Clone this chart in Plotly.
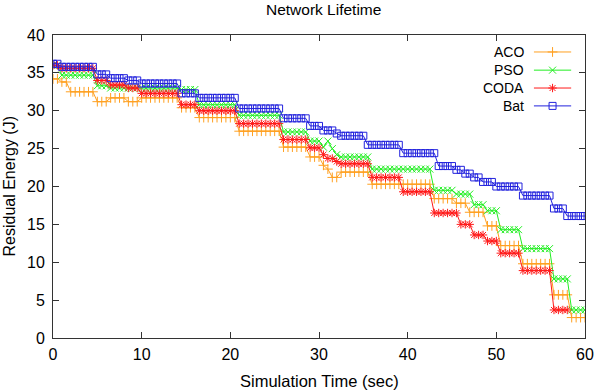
import plotly.graph_objects as go

# Simulation time grid (sec)
time_s = [
    0.0, 0.5, 1.0, 1.5, 2.0, 2.5, 3.0, 3.5, 4.0, 4.5,
    5.0, 5.5, 6.0, 6.5, 7.0, 7.5, 8.0, 8.5, 9.0, 9.5,
    10.0, 10.5, 11.0, 11.5, 12.0, 12.5, 13.0, 13.5, 14.0, 14.5,
    15.0, 15.5, 16.0, 16.5, 17.0, 17.5, 18.0, 18.5, 19.0, 19.5,
    20.0, 20.5, 21.0, 21.5, 22.0, 22.5, 23.0, 23.5, 24.0, 24.5,
    25.0, 25.5, 26.0, 26.5, 27.0, 27.5, 28.0, 28.5, 29.0, 29.5,
    30.0, 30.5, 31.0, 31.5, 32.0, 32.5, 33.0, 33.5, 34.0, 34.5,
    35.0, 35.5, 36.0, 36.5, 37.0, 37.5, 38.0, 38.5, 39.0, 39.5,
    40.0, 40.5, 41.0, 41.5, 42.0, 42.5, 43.0, 43.5, 44.0, 44.5,
    45.0, 45.5, 46.0, 46.5, 47.0, 47.5, 48.0, 48.5, 49.0, 49.5,
    50.0, 50.5, 51.0, 51.5, 52.0, 52.5, 53.0, 53.5, 54.0, 54.5,
    55.0, 55.5, 56.0, 56.5, 57.0, 57.5, 58.0, 58.5, 59.0, 59.5,
    60.0,
]

aco = [
    34.2, 34.2, 33.8, 33.8, 32.5, 32.5, 32.5, 32.5, 32.5, 32.5,
    31.2, 31.2, 31.2, 31.7, 31.7, 31.7, 31.7, 31.2, 31.2, 31.2,
    31.7, 31.7, 31.7, 31.7, 31.7, 31.7, 31.7, 31.7, 31.7, 30.4,
    30.4, 30.4, 30.4, 29.1, 29.1, 29.1, 29.1, 29.1, 29.1, 29.1,
    29.1, 29.1, 27.3, 27.3, 27.3, 27.3, 27.3, 27.3, 27.3, 27.3,
    27.3, 27.3, 25.2, 25.2, 25.2, 25.2, 25.2, 25.2, 23.9, 23.9,
    23.9, 22.8, 22.3, 21.2, 21.2, 21.9, 21.9, 21.9, 21.9, 21.9,
    21.9, 21.9, 20.3, 20.3, 20.3, 20.3, 20.3, 20.3, 20.3, 20.3,
    20.3, 20.3, 20.3, 20.3, 20.3, 20.3, 18.4, 18.4, 18.4, 18.4,
    18.4, 17.8, 17.8, 17.8, 16.6, 16.6, 16.6, 16.6, 14.8, 14.8,
    14.8, 12.2, 12.2, 12.2, 12.2, 12.2, 9.8, 9.8, 9.8, 9.8,
    9.8, 9.8, 9.8, 5.7, 5.7, 5.7, 5.7, 2.7, 2.7, 2.7,
    2.7,
]

pso = [
    36.0, 36.0, 34.7, 34.7, 34.7, 34.7, 34.7, 34.7, 34.7, 34.7,
    33.3, 33.3, 33.3, 33.0, 33.0, 33.0, 33.0, 33.0, 33.0, 33.0,
    33.0, 33.0, 33.0, 33.0, 33.0, 33.0, 33.0, 33.0, 33.0, 32.8,
    32.8, 32.8, 32.8, 30.8, 30.8, 30.8, 30.8, 30.8, 30.8, 30.8,
    30.8, 30.8, 29.4, 29.4, 29.4, 29.4, 29.4, 29.4, 29.4, 29.4,
    29.4, 29.4, 27.2, 27.2, 27.2, 27.2, 27.2, 27.2, 26.0, 26.0,
    26.0, 25.2, 26.0, 25.0, 24.2, 23.9, 23.9, 23.9, 23.9, 23.9,
    23.9, 23.9, 22.3, 22.3, 22.3, 22.3, 22.3, 22.3, 22.3, 22.3,
    22.3, 22.3, 22.3, 22.3, 22.3, 22.3, 19.5, 19.5, 19.5, 19.5,
    19.5, 19.0, 19.0, 19.0, 19.0, 17.6, 17.6, 17.6, 16.8, 16.8,
    16.8, 14.3, 14.3, 14.3, 14.3, 14.3, 11.8, 11.8, 11.8, 11.8,
    11.8, 11.8, 11.8, 7.8, 7.8, 7.8, 7.8, 3.7, 3.7, 3.7,
    3.7,
]

coda = [
    36.0, 36.0, 35.6, 35.6, 35.6, 35.6, 35.6, 35.6, 35.6, 35.6,
    34.0, 34.0, 34.0, 33.4, 33.4, 33.4, 33.4, 33.0, 33.0, 33.0,
    32.3, 32.3, 32.3, 32.3, 32.3, 32.3, 32.3, 32.3, 32.3, 30.8,
    30.8, 30.8, 30.8, 30.0, 30.0, 30.0, 30.0, 30.0, 30.0, 30.0,
    30.0, 30.0, 28.3, 28.3, 28.3, 28.3, 28.3, 28.3, 28.3, 28.3,
    28.3, 28.3, 26.2, 26.2, 26.2, 26.2, 26.2, 26.2, 25.1, 25.1,
    25.1, 24.2, 23.7, 23.7, 23.3, 23.0, 23.0, 23.0, 23.0, 23.0,
    23.0, 23.0, 21.2, 21.2, 21.2, 21.2, 21.2, 21.2, 21.2, 19.3,
    19.3, 19.3, 19.3, 19.3, 19.3, 19.3, 16.5, 16.5, 16.5, 16.5,
    16.5, 16.5, 15.0, 15.0, 15.0, 13.6, 13.6, 13.6, 12.8, 12.8,
    12.8, 11.2, 11.2, 11.2, 11.2, 11.2, 8.9, 8.9, 8.9, 8.9,
    8.9, 8.9, 8.9, 3.7, 3.7, 3.7, 3.7, None, None, None,
    None,
]

bat = [
    36.2, 36.2, 35.8, 35.8, 35.8, 35.8, 35.8, 35.8, 35.8, 35.8,
    34.8, 34.8, 34.8, 34.3, 34.3, 34.3, 34.3, 34.0, 34.0, 34.0,
    33.6, 33.6, 33.6, 33.6, 33.6, 33.6, 33.6, 33.6, 33.6, 32.3,
    32.3, 32.3, 32.3, 31.7, 31.7, 31.7, 31.7, 31.7, 31.7, 31.7,
    31.7, 31.7, 30.3, 30.3, 30.3, 30.3, 30.3, 30.3, 30.3, 30.3,
    30.3, 30.3, 29.0, 29.0, 29.0, 29.0, 29.0, 29.0, 28.0, 28.0,
    28.0, 27.4, 27.4, 27.4, 27.0, 26.7, 26.7, 26.7, 26.7, 26.7,
    26.7, 25.5, 25.5, 25.5, 25.5, 25.5, 25.5, 25.5, 25.5, 24.4,
    24.4, 24.4, 24.4, 24.4, 24.4, 24.4, 24.4, 22.7, 22.7, 22.7,
    22.7, 22.2, 22.2, 21.7, 21.7, 21.2, 21.2, 20.6, 20.6, 20.6,
    20.0, 20.0, 20.0, 20.0, 20.0, 20.0, 18.8, 18.8, 18.8, 18.8,
    18.8, 18.8, 18.8, 17.1, 17.1, 17.1, 16.1, 16.1, 16.1, 16.1,
    16.1,
]

series_names = ["ACO", "PSO", "CODA", "Bat"]
series_values = [aco, pso, coda, bat]
series_colors = ["#FFA021", "#22EE22", "#FF1A1A", "#2222DD"]
series_symbols = ["cross-thin-open", "x-thin-open", "asterisk-open", "square-open"]

x_ticks = [0, 10, 20, 30, 40, 50, 60]
y_ticks = [0, 5, 10, 15, 20, 25, 30, 35, 40]

FONT = "Liberation Sans, Arial, sans-serif"

fig = go.Figure()
for name, vals, col, sym in zip(series_names, series_values, series_colors, series_symbols):
    fig.add_trace(go.Scatter(
        x=time_s, y=vals, mode="lines+markers", name=name,
        line=dict(color=col, width=1),
        marker=dict(symbol=sym, size=7, color=col, line=dict(color=col, width=1)),
        showlegend=False,
    ))

# gnuplot-style key: text on the left, sample on the right (in an overlaid 0-1 axis)
legend_rows = [0.944, 0.884, 0.825, 0.766]
for name, col, sym, yr in zip(series_names, series_colors, series_symbols, legend_rows):
    fig.add_trace(go.Scatter(
        x=[0.904, 0.974], y=[yr, yr], mode="lines", xaxis="x2", yaxis="y2",
        line=dict(color=col, width=1), showlegend=False, hoverinfo="skip",
    ))
    fig.add_trace(go.Scatter(
        x=[0.939], y=[yr], mode="markers", xaxis="x2", yaxis="y2",
        marker=dict(symbol=sym, size=7, color=col, line=dict(color=col, width=1)),
        showlegend=False, hoverinfo="skip",
    ))
    fig.add_annotation(
        x=0.889, y=yr, xref="x2", yref="y2", text=name, showarrow=False,
        xanchor="right", yanchor="middle",
        font=dict(family=FONT, size=14, color="#000000"),
    )

axis_common = dict(
    showline=True, linecolor="#333333", linewidth=1, mirror="ticks",
    ticks="inside", ticklen=6, tickcolor="#333333", tickwidth=1,
    showgrid=False, zeroline=False,
    tickfont=dict(family=FONT, size=16, color="#000000"),
)

fig.update_layout(
    width=605, height=390,
    margin=dict(l=53, r=11, t=35, b=52),
    paper_bgcolor="white", plot_bgcolor="white",
    title=dict(text="Network Lifetime", x=0.535, xanchor="center", y=0.975, yanchor="middle",
               font=dict(family=FONT, size=15.5, color="#000000")),
    xaxis=dict(range=[0, 60], tickvals=x_ticks, ticklabelstandoff=2, **axis_common),
    yaxis=dict(range=[0, 40], tickvals=y_ticks, ticklabelstandoff=4, **axis_common),
    xaxis2=dict(range=[0, 1], overlaying="x", visible=False),
    yaxis2=dict(range=[0, 1], overlaying="y", visible=False),
)

fig.add_annotation(
    x=0.5, y=0, xref="paper", yref="paper", yshift=-43, text="Simulation Time (sec)",
    showarrow=False, xanchor="center", yanchor="middle",
    font=dict(family=FONT, size=16.5, color="#000000"),
)
fig.add_annotation(
    x=0, y=0.5, xref="paper", yref="paper", xshift=-44, text="Residual Energy (J)",
    showarrow=False, xanchor="center", yanchor="middle", textangle=-90,
    font=dict(family=FONT, size=16, color="#000000"),
)

fig.write_html("out.html")
